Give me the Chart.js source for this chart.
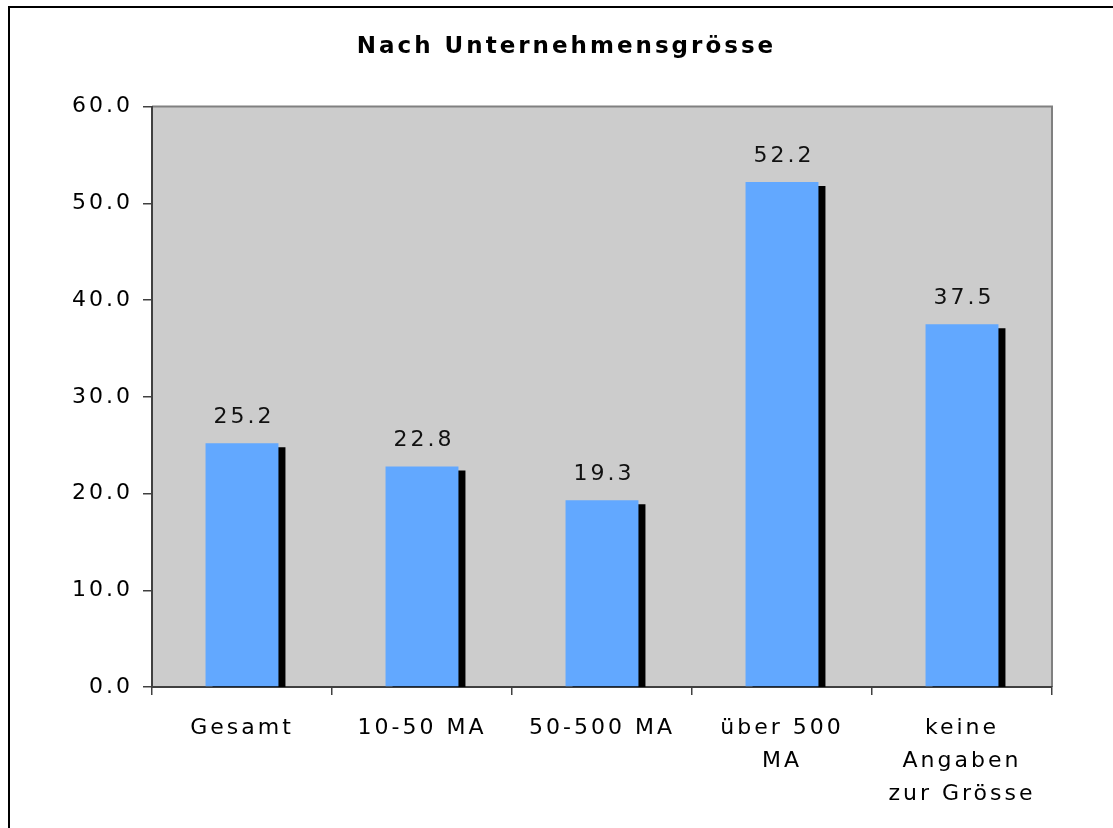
<!DOCTYPE html>
<html>
<head>
<meta charset="utf-8">
<title>Nach Unternehmensgrösse</title>
<script src="https://cdn.jsdelivr.net/npm/chart.js@4"></script>
<style>
  html, body { margin: 0; padding: 0; background: #fff; overflow: hidden; }
  #frame {
    position: absolute; left: 8px; top: 6px;
    width: 1200px; height: 900px;
    border-left: 2px solid #000; border-top: 2px solid #000;
    pointer-events: none;
  }
  #wrap { position: absolute; left: 0; top: 0; width: 1113px; height: 828px; }
</style>
</head>
<body>
<div id="wrap"><canvas id="barChart" width="1113" height="828"></canvas></div>
<div id="frame"></div>
<script>
const categories = ['Gesamt', '10-50 MA', '50-500 MA', ['über 500', 'MA'], ['keine', 'Angaben', 'zur Grösse']];
const values = [25.2, 22.8, 19.3, 52.2, 37.5];
const yTicks = [0, 10, 20, 30, 40, 50, 60];

const FONT = "'DejaVu Sans', Verdana, sans-serif";

// excel look: grey plot area, spaced letters, dropped shadow + value labels
const excelLook = {
  id: 'excelLook',
  beforeUpdate(chart) {
    chart.ctx.letterSpacing = '3px';
  },
  afterLayout(chart) {
    // widen the y axis box to the left so its labels are not clipped
    const y = chart.scales.y;
    y.left = 17;
    y.width = y.right - y.left;
  },
  beforeDraw(chart) {
    const ctx = chart.ctx;
    const a = chart.chartArea;
    ctx.letterSpacing = '3px';
    ctx.save();
    ctx.fillStyle = '#CCCCCC';
    ctx.fillRect(a.left, a.top, a.right - a.left, a.bottom - a.top);
    ctx.strokeStyle = '#808080';
    ctx.lineWidth = 2;
    ctx.beginPath();
    ctx.moveTo(a.left, a.top);
    ctx.lineTo(a.right, a.top);
    ctx.lineTo(a.right, a.bottom);
    ctx.stroke();
    ctx.restore();
  },
  beforeDatasetsDraw(chart) {
    const ctx = chart.ctx;
    ctx.save();
    ctx.shadowColor = '#000000';
    ctx.shadowOffsetX = 7;
    ctx.shadowOffsetY = 4;
    ctx.shadowBlur = 0;
  },
  afterDatasetsDraw(chart) {
    const ctx = chart.ctx;
    ctx.restore();
    ctx.save();
    ctx.font = '22px ' + FONT;
    ctx.fillStyle = '#111';
    ctx.textAlign = 'center';
    ctx.textBaseline = 'middle';
    chart.getDatasetMeta(0).data.forEach((bar, i) => {
      ctx.fillText(values[i].toFixed(1), bar.x + 2, bar.y - 26);
    });
    ctx.restore();
  }
};

new Chart(document.getElementById('barChart'), {
  type: 'bar',
  data: {
    labels: categories,
    datasets: [{
      data: values,
      backgroundColor: '#62A8FF',
      borderWidth: 0,
      barPercentage: 0.405,
      categoryPercentage: 1.0,
      clip: 0
    }]
  },
  options: {
    responsive: false,
    maintainAspectRatio: false,
    animation: false,
    layout: {
      padding: { left: 81, right: 61, top: 0, bottom: 0 }
    },
    plugins: {
      legend: { display: false },
      tooltip: { enabled: false },
      title: {
        display: true,
        text: 'Nach Unternehmensgrösse',
        color: '#000',
        font: { family: FONT, size: 23, weight: 'bold', lineHeight: 1.2 },
        padding: { top: 33, bottom: 46 }
      }
    },
    scales: {
      x: {
        grid: {
          offset: true,
          drawOnChartArea: false,
          drawTicks: true,
          tickLength: 8,
          color: '#404040',
          lineWidth: 1.5
        },
        border: { display: true, color: '#404040', width: 2 },
        ticks: {
          color: '#000',
          padding: 17,
          maxRotation: 0,
          autoSkip: false,
          font: { family: FONT, size: 22, lineHeight: 1.5 }
        },
        afterFit(axis) { axis.height = 141; }
      },
      y: {
        min: yTicks[0],
        max: yTicks[yTicks.length - 1],
        afterBuildTicks(axis) { axis.ticks = yTicks.map(v => ({ value: v })); },
        grid: {
          drawOnChartArea: false,
          drawTicks: true,
          tickLength: 9,
          color: '#404040',
          lineWidth: 1.5
        },
        border: { display: true, color: '#404040', width: 2 },
        ticks: {
          color: '#000',
          padding: 10,
          font: { family: FONT, size: 22 },
          callback: (v) => Number(v).toFixed(1)
        },
        afterFit(axis) { axis.width = 71; }
      }
    }
  },
  plugins: [excelLook]
});
</script>
</body>
</html>
